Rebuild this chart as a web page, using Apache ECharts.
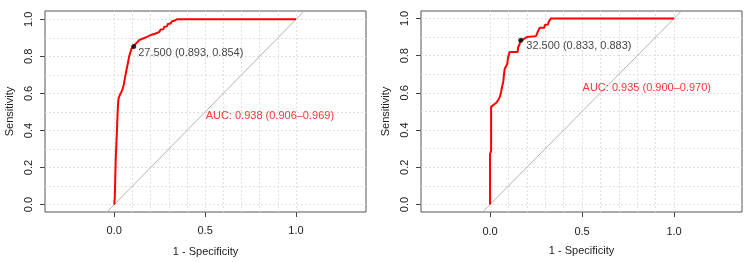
<!DOCTYPE html>
<html>
<head>
<meta charset="utf-8">
<script src="https://cdn.jsdelivr.net/npm/echarts@6/dist/echarts.min.js"></script>
<style>html,body{margin:0;padding:0;background:#fff}#c{width:750px;height:262px}</style>
</head>
<body>
<div id="c"></div>
<script>
// ---- data ----
const xTicks = [0, 0.5, 1];
const yTicks = [0, 0.2, 0.4, 0.6, 0.8, 1];
const gridValues = [0, 0.1, 0.2, 0.3, 0.4, 0.5, 0.6, 0.7, 0.8, 0.9, 1];
const diagonal = [[-0.5, -0.5], [1.5, 1.5]];

const rocA = [[0,0],[0.003,0.04],[0.005,0.12],[0.007,0.2],[0.009,0.27],[0.011,0.31],[0.014,0.38],[0.017,0.46],[0.02,0.53],[0.023,0.57],[0.03,0.59],[0.04,0.61],[0.048,0.63],[0.053,0.65],[0.058,0.68],[0.064,0.71],[0.07,0.74],[0.076,0.77],[0.082,0.8],[0.088,0.82],[0.094,0.84],[0.1,0.85],[0.107,0.854],[0.113,0.86],[0.12,0.87],[0.13,0.875],[0.14,0.89],[0.155,0.895],[0.165,0.9],[0.18,0.905],[0.19,0.912],[0.2,0.915],[0.21,0.92],[0.225,0.922],[0.232,0.93],[0.248,0.932],[0.255,0.945],[0.27,0.947],[0.275,0.96],[0.29,0.962],[0.295,0.975],[0.31,0.978],[0.318,0.99],[0.33,0.992],[0.345,1.0],[1,1]];
const thrA = [0.107, 0.854];
const thrLabelA = '27.500 (0.893, 0.854)';
const aucLabelA = 'AUC: 0.938 (0.906\u20130.969)';
const aucAnchorA = [0.5, 0.479];

const rocB = [[0,0],[0,0.27],[0.006,0.29],[0.006,0.525],[0.015,0.535],[0.025,0.54],[0.036,0.548],[0.045,0.563],[0.054,0.58],[0.06,0.605],[0.066,0.635],[0.072,0.66],[0.076,0.7],[0.08,0.73],[0.088,0.74],[0.094,0.757],[0.097,0.785],[0.103,0.79],[0.106,0.82],[0.15,0.82],[0.153,0.845],[0.16,0.86],[0.167,0.883],[0.178,0.886],[0.185,0.895],[0.2,0.9],[0.25,0.905],[0.258,0.925],[0.265,0.935],[0.27,0.95],[0.295,0.95],[0.298,0.965],[0.315,0.968],[0.318,0.98],[0.325,0.985],[0.33,1.0],[1,1]];
const thrB = [0.167, 0.883];
const thrLabelB = '32.500 (0.833, 0.883)';
const aucLabelB = 'AUC: 0.935 (0.900\u20130.970)';
const aucAnchorB = [0.5, 0.624];

const xName = '1 - Specificity';
const yName = 'Sensitivity';

// ---- build ----
const FONT = 'Liberation Sans, Arial, Helvetica, sans-serif';
const panels = [
  {roc: rocA, thr: thrA, thrLabel: thrLabelA, auc: aucLabelA, aucAt: aucAnchorA,
   grid: {left: 45, top: 11, width: 321, height: 203}, xr: [-0.381, 1.385], yr: [-0.04, 1.045],
   xMargin: 13, yMargin: 11, xGap: 34, yGap: 30, thrOff: [0, 7]},
  {roc: rocB, thr: thrB, thrLabel: thrLabelB, auc: aucLabelB, aucAt: aucAnchorB,
   grid: {left: 421, top: 11, width: 321, height: 201}, xr: [-0.375, 1.369], yr: [-0.04, 1.04],
   xMargin: 14, yMargin: 11, xGap: 33, yGap: 30, thrOff: [1, 6]}
];

const option = {backgroundColor: '#fff', animation: false, grid: [], xAxis: [], yAxis: [], series: []};
panels.forEach((p, i) => {
  option.grid.push(Object.assign({show: true, borderColor: '#555', borderWidth: 1, backgroundColor: 'transparent'}, p.grid));
  option.xAxis.push({
    type: 'value', gridIndex: i, min: p.xr[0], max: p.xr[1],
    axisLine: {show: false, onZero: false}, splitLine: {show: false},
    axisTick: {show: true, customValues: xTicks, length: 5, lineStyle: {color: '#444'}},
    axisLabel: {customValues: xTicks, formatter: v => v.toFixed(1), margin: p.xMargin, color: '#222', fontSize: 11, fontFamily: FONT},
    name: xName, nameLocation: 'middle', nameGap: p.xGap,
    nameTextStyle: {color: '#222', fontSize: 11, fontFamily: FONT}
  });
  option.yAxis.push({
    type: 'value', gridIndex: i, min: p.yr[0], max: p.yr[1],
    axisLine: {show: false, onZero: false}, splitLine: {show: false},
    axisTick: {show: true, customValues: yTicks, length: 5, lineStyle: {color: '#444'}},
    axisLabel: {customValues: yTicks, formatter: v => v.toFixed(1), rotate: 90, margin: p.yMargin, color: '#222', fontSize: 11, fontFamily: FONT},
    name: yName, nameLocation: 'middle', nameGap: p.yGap,
    nameTextStyle: {color: '#222', fontSize: 11, fontFamily: FONT}
  });
  // grid lines
  option.series.push({
    type: 'line', xAxisIndex: i, yAxisIndex: i, data: [], z: 1, silent: true,
    markLine: {silent: true, z: 1, symbol: ['none', 'none'], label: {show: false}, animation: false,
      lineStyle: {type: [2, 2], color: '#e0e0e0', width: 1},
      data: gridValues.map(v => ({xAxis: v})).concat(gridValues.map(v => ({yAxis: v})))}
  });
  // diagonal
  option.series.push({
    type: 'line', xAxisIndex: i, yAxisIndex: i, data: diagonal, showSymbol: false, silent: true, z: 2, clip: true,
    lineStyle: {color: '#b4b4b4', width: 1}
  });
  // roc
  option.series.push({
    type: 'line', xAxisIndex: i, yAxisIndex: i, data: p.roc, showSymbol: false, silent: true, z: 3, clip: true,
    lineStyle: {color: '#ff0000', width: 2}
  });
  // threshold
  option.series.push({
    type: 'scatter', xAxisIndex: i, yAxisIndex: i, data: [p.thr], symbolSize: 5, z: 4, silent: true,
    itemStyle: {color: '#000'},
    label: {show: true, formatter: p.thrLabel, position: 'right', distance: 2, offset: p.thrOff, color: '#111', fontSize: 11, fontFamily: FONT}
  });
  // AUC
  option.series.push({
    type: 'scatter', xAxisIndex: i, yAxisIndex: i, data: [p.aucAt], symbolSize: 1, z: 4, silent: true,
    itemStyle: {color: 'rgba(0,0,0,0)'},
    label: {show: true, formatter: p.auc, position: 'right', distance: 0, color: '#ff0000', fontSize: 11, fontFamily: FONT}
  });
});

const chart = echarts.init(document.getElementById('c'), null, {renderer: 'canvas'});
chart.setOption(option);
</script>
</body>
</html>
